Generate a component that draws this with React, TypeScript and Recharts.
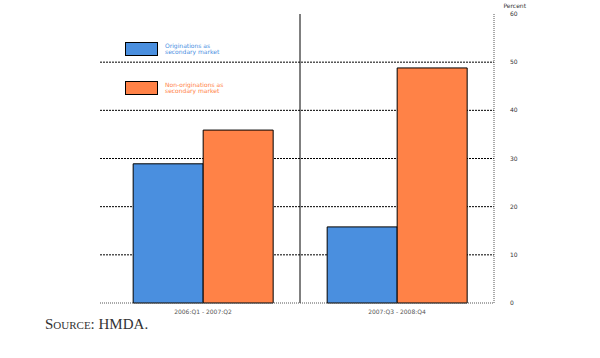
import React from 'react';
import { BarChart, Bar, XAxis, YAxis, CartesianGrid } from 'recharts';

// Data
const periods = ['2006:Q1 - 2007:Q2', '2007:Q3 - 2008:Q4'];
const originations = [28.9, 15.8];
const nonOriginations = [35.9, 48.8];
const yTicks = [0, 10, 20, 30, 40, 50, 60];
const gridValues = [10, 20, 30, 40, 50];

const seriesNames = ['Originations as\nsecondary market', 'Non-originations as\nsecondary market'];
const BLUE = '#4a8fdf';
const ORANGE = '#ff8247';
const PAD_LEFT = 6;

const data = periods.map((p, i) => ({
  period: p,
  orig: originations[i],
  nonOrig: nonOriginations[i],
}));

const LegendBox = () => (
  <div style={{ position: 'absolute', left: 125, top: 42, width: 200, height: 80 }}>
    {[BLUE, ORANGE].map((c, i) => (
      <div key={i} style={{ position: 'absolute', left: 0, top: i * 39 }}>
        <div style={{ position: 'absolute', left: 0, top: 0, width: 31, height: 12, background: c, border: '1px solid #000' }} />
        <div style={{ position: 'absolute', left: 40, top: 1, width: 120, fontSize: 6, lineHeight: '6px', color: c, whiteSpace: 'pre', fontFamily: 'DejaVu Sans' }}>
          {seriesNames[i]}
        </div>
      </div>
    ))}
  </div>
);

const App: React.FC = () => {
  return (
    <div style={{ position: 'relative', width: 600, height: 358, background: '#fff' }}>
      <style>{`body{margin:0}`}</style>
      <BarChart
        width={600}
        height={358}
        data={data}
        margin={{ top: 14, right: 76, left: 100, bottom: 25 }}
        barCategoryGap="14%"
        barGap={0}
      >
        <CartesianGrid vertical={false} horizontalValues={gridValues} stroke="#000" strokeDasharray="2 1" />
        <CartesianGrid
          horizontal={false}
          stroke="#000"
          verticalCoordinatesGenerator={({ offset }: any) => [
            offset.left + PAD_LEFT + (offset.width - PAD_LEFT) / 2,
          ]}
        />
        <XAxis
          dataKey="period"
          height={30}
          padding={{ left: PAD_LEFT, right: 0 }}
          axisLine={{ stroke: '#555', strokeDasharray: '1 1' }}
          tickLine={false}
          tick={{ fontSize: 6, fill: '#555', fontFamily: 'DejaVu Sans' }}
          tickMargin={1}
        />
        <YAxis
          yAxisId="l"
          orientation="left"
          width={0}
          domain={[0, 60]}
          ticks={yTicks}
          tick={false}
          tickLine={false}
          axisLine={{ stroke: '#555', strokeDasharray: '1 1' }}
        />
        <YAxis
          orientation="right"
          domain={[0, 60]}
          ticks={yTicks}
          width={30}
          tickLine={false}
          axisLine={{ stroke: '#555', strokeDasharray: '1 1' }}
          tick={{ fontSize: 6, fill: '#333', fontFamily: 'DejaVu Sans', dx: 8 }}
          label={{ value: 'Percent', position: 'insideTopRight', offset: 0, dy: -10, dx: 2, fontSize: 6, fill: '#333', fontFamily: 'DejaVu Sans' }}
        />
        <Bar dataKey="orig" fill={BLUE} stroke="#000" strokeWidth={1} isAnimationActive={false} />
        <Bar dataKey="nonOrig" fill={ORANGE} stroke="#000" strokeWidth={1} isAnimationActive={false} />
      </BarChart>
      <LegendBox />
      <div
        style={{
          position: 'absolute',
          left: 45,
          top: 316,
          fontFamily: '"Liberation Serif", serif',
          fontSize: 15,
          fontVariant: 'small-caps',
          color: '#333',
        }}
      >
        Source: HMDA.
      </div>
    </div>
  );
};

export default App;
